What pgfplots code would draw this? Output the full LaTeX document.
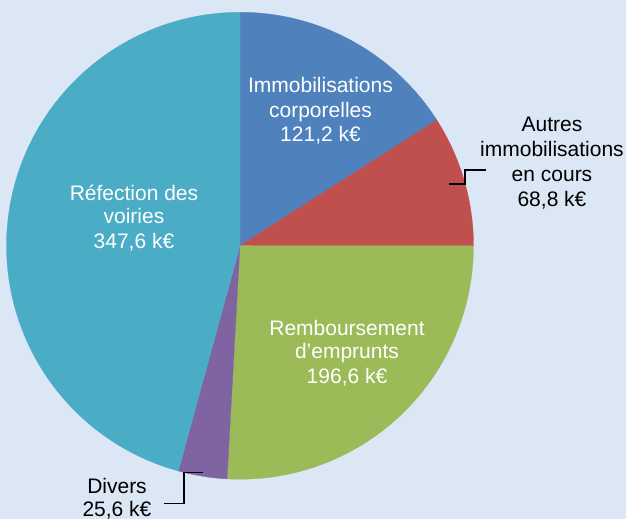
\documentclass[border=0pt]{standalone}
\usepackage{pgfplots}
\usepackage{pgfplotstable}
\pgfplotsset{compat=1.18}
\usepackage{fontspec}
\setmainfont{Liberation Sans}[Ligatures=ResetAll]
\definecolor{bgc}{RGB}{219,231,245}
\definecolor{cA}{RGB}{79,129,189}
\definecolor{cB}{RGB}{192,80,77}
\definecolor{cC}{RGB}{155,187,89}
\definecolor{cD}{RGB}{128,100,162}
\definecolor{cE}{RGB}{75,172,198}

\pgfplotstableread{
poste valeur
Immo 121.2
Autres 68.8
Remb 196.6
Divers 25.6
Voiries 347.6
}\piedata

\begin{document}
\begin{tikzpicture}
\pgfplotstablegetelem{0}{valeur}\of\piedata \let\vA\pgfplotsretval
\pgfplotstablegetelem{1}{valeur}\of\piedata \let\vB\pgfplotsretval
\pgfplotstablegetelem{2}{valeur}\of\piedata \let\vC\pgfplotsretval
\pgfplotstablegetelem{3}{valeur}\of\piedata \let\vD\pgfplotsretval
\pgfplotstablegetelem{4}{valeur}\of\piedata \let\vE\pgfplotsretval
\pgfmathsetmacro\tot{\vA+\vB+\vC+\vD+\vE}
\pgfmathsetmacro\aA{90}
\pgfmathsetmacro\aB{\aA-360*(\vA/\tot)}
\pgfmathsetmacro\aC{\aB-360*(\vB/\tot)}
\pgfmathsetmacro\aD{\aC-360*(\vC/\tot)}
\pgfmathsetmacro\aE{\aD-360*(\vD/\tot)}
\pgfmathsetmacro\aF{\aE-360*(\vE/\tot)}
\def\cx{240}\def\cy{273.25}\def\rr{233.5}
\begin{axis}[
  width=626bp, height=519bp, scale only axis,
  xmin=0, xmax=626, ymin=0, ymax=519,
  hide axis, clip=false,
]
\fill[bgc] (axis cs:0,0) rectangle (axis cs:626,519);
\addplot[fill=cA, draw=cA, line width=0.3bp, domain=\aB:\aA, samples=90, variable=\t]
  ({\cx+\rr*cos(\t)}, {\cy+\rr*sin(\t)}) -- (axis cs:\cx,\cy) -- cycle;
\addplot[fill=cB, draw=cB, line width=0.3bp, domain=\aC:\aB, samples=60, variable=\t]
  ({\cx+\rr*cos(\t)}, {\cy+\rr*sin(\t)}) -- (axis cs:\cx,\cy) -- cycle;
\addplot[fill=cC, draw=cC, line width=0.3bp, domain=\aD:\aC, samples=120, variable=\t]
  ({\cx+\rr*cos(\t)}, {\cy+\rr*sin(\t)}) -- (axis cs:\cx,\cy) -- cycle;
\addplot[fill=cD, draw=cD, line width=0.3bp, domain=\aE:\aD, samples=30, variable=\t]
  ({\cx+\rr*cos(\t)}, {\cy+\rr*sin(\t)}) -- (axis cs:\cx,\cy) -- cycle;
\addplot[fill=cE, draw=cE, line width=0.3bp, domain=\aF:\aE, samples=200, variable=\t]
  ({\cx+\rr*cos(\t)}, {\cy+\rr*sin(\t)}) -- (axis cs:\cx,\cy) -- cycle;

\tikzset{lab/.style={anchor=base, inner sep=0pt, font=\fontsize{21bp}{24bp}\selectfont}}
% inside labels
\node[lab, text=white] at (axis cs:320.5,426) {Immobilisations};
\node[lab, text=white] at (axis cs:320.5,401.7) {corporelles};
\node[lab, text=white] at (axis cs:320.5,377.3) {121,2 k€};
\node[lab, text=white] at (axis cs:134,318.3) {Réfection des};
\node[lab, text=white] at (axis cs:134,295) {voiries};
\node[lab, text=white] at (axis cs:134,270) {347,6 k€};
\node[lab, text=white] at (axis cs:347,183) {Remboursement};
\node[lab, text=white] at (axis cs:347,160.7) {d'emprunts};
\node[lab, text=white] at (axis cs:347,135) {196,6 k€};
% outside labels
\node[lab, text=black] at (axis cs:552,387.3) {Autres};
\node[lab, text=black] at (axis cs:552,362) {immobilisations};
\node[lab, text=black] at (axis cs:552,337.3) {en cours};
\node[lab, text=black] at (axis cs:552,312.3) {68,8 k€};
\node[lab, text=black] at (axis cs:117,26) {Divers};
\node[lab, text=black] at (axis cs:117,3) {25,6 k€};
\draw[black, line width=1.3bp] (axis cs:449.3,335) -- (axis cs:465,335) -- (axis cs:465,349) -- (axis cs:485.7,349);
\draw[black, line width=1.3bp] (axis cs:203.3,46.7) -- (axis cs:184,46.7) -- (axis cs:184,15.7) -- (axis cs:164,15.7);
\end{axis}
\pgfresetboundingbox
\path (0,0) rectangle (626bp,519bp);
\end{tikzpicture}
\end{document}
